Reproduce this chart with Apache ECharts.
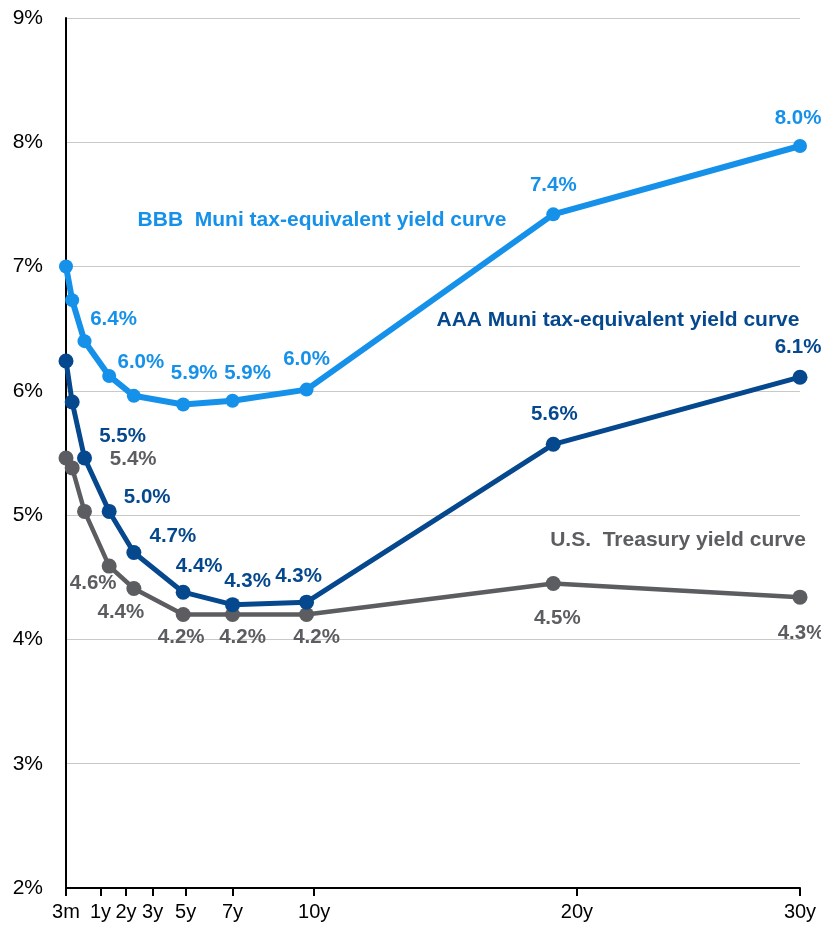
<!DOCTYPE html>
<html>
<head>
<meta charset="utf-8">
<script src="https://cdn.jsdelivr.net/npm/echarts@6/dist/echarts.min.js"></script>
<style>
html,body{margin:0;padding:0;background:#fff;}
#chart{width:821px;height:928px;}
</style>
</head>
<body>
<div id="chart"></div>
<script>
// ---- data ----
const tenors    = [0.25, 0.5, 1, 2, 3, 5, 7, 10, 20, 30];
const bbbYield  = [7.00, 6.73, 6.40, 6.12, 5.96, 5.89, 5.92, 6.01, 7.42, 7.97];
const aaaYield  = [6.24, 5.91, 5.46, 5.03, 4.70, 4.38, 4.28, 4.30, 5.57, 6.11];
const ustYield  = [5.46, 5.38, 5.03, 4.59, 4.41, 4.20, 4.20, 4.20, 4.45, 4.34];
const tickLabels = ['3m', '1y', '2y', '3y', '5y', '7y', '10y', '20y', '30y'];
const tickValues = [0.25, 1.65, 2.68, 3.76, 5.10, 7.0, 10.31, 20.96, 30];
const yTickLabels = ['2%', '3%', '4%', '5%', '6%', '7%', '8%', '9%'];
const seriesNames = ['BBB  Muni tax-equivalent yield curve', 'AAA Muni tax-equivalent yield curve', 'U.S.  Treasury yield curve'];

// ---- styles ----
const FONT = '"Liberation Sans", Arial, sans-serif';
const C_BBB = '#1591ea', C_AAA = '#05488e', C_UST = '#5b5d60';

// label offsets (style only): index -> [dx, dy]
const bbbLbl = {2:[29,-22], 4:[7,-33], 5:[11,-31], 6:[15,-27], 7:[0,-30], 8:[0,-29], 9:[-2,-28]};
const aaaLbl = {2:[38,-22], 3:[38,-14], 4:[39,-16], 5:[16,-26], 6:[15,-23], 7:[-8,-26], 8:[1,-30], 9:[-2,-30]};
const ustLbl = {1:[61,-9], 3:[-16,17], 4:[-13,24], 5:[-2,23], 6:[10,23], 7:[10,23], 8:[4,35], 9:[1,36]};

function build(vals, lbl) {
  return tenors.map((t, i) => {
    const o = lbl[i];
    return {
      value: [t, vals[i]],
      label: o ? {show: true, offset: o} : {show: false}
    };
  });
}
function mkSeries(name, vals, lbl, color, lw, ss, z) {
  return {
    name: name, type: 'line', z: z,
    data: build(vals, lbl),
    symbol: 'circle', symbolSize: ss, showSymbol: true,
    lineStyle: {color: color, width: lw},
    itemStyle: {color: color},
    emphasis: {disabled: true},
    animation: false,
    label: {
      position: 'inside', color: color, fontFamily: FONT, fontWeight: 'bold', fontSize: 20.5,
      textBorderWidth: 0, align: 'center', verticalAlign: 'middle',
      formatter: p => p.value[1].toFixed(1) + '%'
    }
  };
}

const chart = echarts.init(document.getElementById('chart'), null, {renderer: 'canvas'});
chart.setOption({
  backgroundColor: '#fff',
  animation: false,
  grid: {left: 66, right: 21, top: 18, bottom: 40},
  xAxis: {
    type: 'value', min: 0.25, max: 30,
    axisLine: {show: true, lineStyle: {color: '#000', width: 2}},
    axisTick: {show: true, customValues: tickValues, length: 8, lineStyle: {color: '#000', width: 2}},
    axisLabel: {
      customValues: tickValues, margin: 14, color: '#000', fontFamily: FONT, fontSize: 20,
      formatter: v => { const i = tickValues.findIndex(x => Math.abs(x - v) < 1e-6); return i >= 0 ? tickLabels[i] : ''; }
    },
    splitLine: {show: false}
  },
  yAxis: {
    type: 'value', min: 2, max: 9, interval: 1,
    axisLine: {show: true, lineStyle: {color: '#000', width: 2}},
    axisTick: {show: false},
    axisLabel: {margin: 23, color: '#000', fontFamily: FONT, fontSize: 21,
      formatter: v => yTickLabels[Math.round(v - 2)]},
    splitLine: {show: true, lineStyle: {color: '#c9c9c9', width: 1}}
  },
  series: [
    mkSeries(seriesNames[2], ustYield, ustLbl, C_UST, 4.5, 15, 2),
    mkSeries(seriesNames[1], aaaYield, aaaLbl, C_AAA, 5, 15, 3),
    mkSeries(seriesNames[0], bbbYield, bbbLbl, C_BBB, 6, 14, 4)
  ],
  graphic: [
    {type: 'text', x: 322, y: 220, style: {text: seriesNames[0], fill: C_BBB, font: 'bold 21px ' + FONT, textAlign: 'center', textVerticalAlign: 'middle'}},
    {type: 'text', x: 618, y: 320, style: {text: seriesNames[1], fill: C_AAA, font: 'bold 21px ' + FONT, textAlign: 'center', textVerticalAlign: 'middle'}},
    {type: 'text', x: 678, y: 540, style: {text: seriesNames[2], fill: C_UST, font: 'bold 21px ' + FONT, textAlign: 'center', textVerticalAlign: 'middle'}}
  ]
});
</script>
</body>
</html>
